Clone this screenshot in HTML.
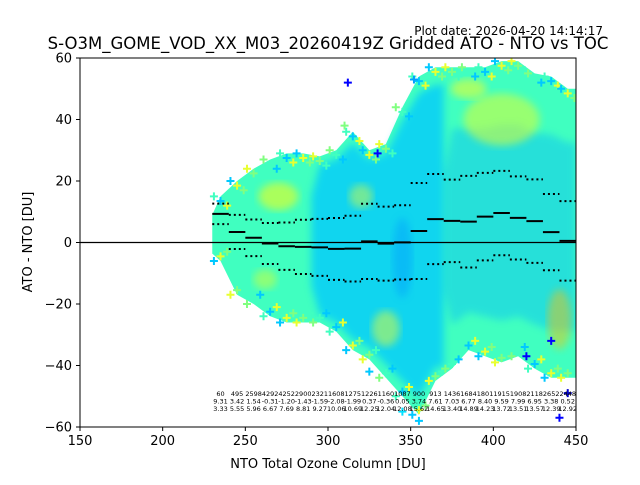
<!DOCTYPE html>
<html><head><meta charset="utf-8"><style>
body{margin:0;background:#fff;font-family:"Liberation Sans","DejaVu Sans",sans-serif}
svg text{font-family:"DejaVu Sans","Liberation Sans",sans-serif}
</style></head><body>
<svg id="chart" width="640" height="480" viewBox="0 0 640 480" xmlns="http://www.w3.org/2000/svg">
<rect width="640" height="480" fill="#fff"/>
<text x="603" y="35" font-size="12" text-anchor="end">Plot date: 2026-04-20 14:14:17</text>
<text x="328" y="49" font-size="16.5" text-anchor="middle">S-O3M_GOME_VOD_XX_M03_20260419Z Gridded ATO - NTO vs TOC</text>
<defs><clipPath id="pc"><rect x="80" y="58" width="496" height="369"/></clipPath>
<filter id="blur"><feGaussianBlur stdDeviation="4"/></filter></defs>
<g id="cloud" clip-path="url(#pc)"></g>
<g id="overlay" clip-path="url(#pc)"></g>
<g id="stats"></g>
<rect x="80" y="58" width="496" height="369" fill="none" stroke="#000" stroke-width="1"/>
<g id="axes"></g>
<text x="328" y="468" font-size="13" text-anchor="middle">NTO Total Ozone Column [DU]</text>
<text transform="translate(32,242) rotate(-90)" font-size="13" text-anchor="middle">ATO - NTO [DU]</text>
</svg>
<script>
const binCenters=[235,245,255,265,275,285,295,305,315,325,335,345,355,365,375,385,395,405,415,425,435,445];
const counts=[60,495,2598,4292,4252,2900,2321,1608,1275,1226,1160,1087,900,913,1436,1684,1801,1915,1908,2118,2652,2448];
const means=[9.31,3.42,1.54,-0.31,-1.20,-1.43,-1.59,-2.08,-1.99,0.37,-0.36,0.05,3.74,7.61,7.03,6.77,8.40,9.59,7.99,6.95,3.38,0.52];
const stds=[3.33,5.55,5.96,6.67,7.69,8.81,9.27,10.06,10.69,12.25,12.04,12.08,15.62,14.65,13.40,14.89,14.23,13.72,13.51,13.57,12.39,12.92];
const envTop=[15,20,24,27,29,29,28,30,36,30,32,44,54,57,57,57,57,59,59,55,54,50];
const envBot=[-6,-17,-20,-24,-26,-26,-26,-29,-35,-38,-44,-50,-56,-45,-41,-35,-37,-39,-37,-41,-44,-44];
const xTicks=[150,200,250,300,350,400,450];
const yTicks=[60,40,20,0,-20,-40,-60];
const outX=[312,330,352,440,355,445,435,420,325,345,310];
const outY=[52,29,53,-57,-58,-49,-32,-37,-42,-55,38];
const outC=['#0000ff','#0000ff','#00a0ff','#0000ff','#00c8ff','#0000cc','#0000ff','#0000ff','#00c8ff','#00e0ff','#80ff80'];

const X=v=>80+(v-150)*496/300;
const Y=v=>242.5-v*369/120;
const NS='http://www.w3.org/2000/svg';
function mk(tag,attrs,parent){const e=document.createElementNS(NS,tag);for(const k in attrs)e.setAttribute(k,attrs[k]);parent.appendChild(e);return e;}
const cloud=document.getElementById('cloud'),ov=document.getElementById('overlay'),stats=document.getElementById('stats'),axes=document.getElementById('axes');

function envPoly(lo,hi,sc){
  const idx=binCenters.map((c,i)=>i).filter(i=>binCenters[i]>=lo&&binCenters[i]<=hi);
  let p=[];
  p.push(X(binCenters[idx[0]]-5)+','+Y(envTop[idx[0]]*sc*0.6));
  idx.forEach(i=>p.push(X(binCenters[i])+','+Y(envTop[i]*sc)));
  p.push(X(binCenters[idx[idx.length-1]]+5)+','+Y(envTop[idx[idx.length-1]]*sc));
  p.push(X(binCenters[idx[idx.length-1]]+5)+','+Y(envBot[idx[idx.length-1]]*sc));
  idx.slice().reverse().forEach(i=>p.push(X(binCenters[i])+','+Y(envBot[i]*sc)));
  p.push(X(binCenters[idx[0]]-5)+','+Y(envBot[idx[0]]*sc*0.6));
  return p.join(' ');
}
const base=mk('polygon',{points:envPoly(230,450,1),fill:'#40ffc0'},cloud);


const colorZones=[[295,365,0.9,'#00c8ff',0.75],[375,450,0.65,'#00b4ff',0.4]];
colorZones.forEach(z=>{
  const e=mk('polygon',{points:envPoly(z[0],z[1],z[2]),fill:z[3],opacity:z[4],filter:'url(#blur)'},cloud);
  
  
});
const blobs=[[270,15,20,14,'#d8ff30',0.7],[262,-12,12,10,'#d8ff30',0.5],[405,40,38,26,'#e0ff30',0.55],[385,50,18,10,'#e8ff30',0.6],[440,-25,12,30,'#ffc000',0.45],[335,-28,14,18,'#e8ff30',0.5],[320,15,12,12,'#e8ff30',0.45],[345,-5,10,40,'#0096ff',0.4]];
blobs.forEach(b=>{
  const e=mk('ellipse',{cx:X(b[0]),cy:Y(b[1]),rx:b[2],ry:b[3],fill:b[4],opacity:b[5],filter:'url(#blur)'},cloud);
  
  
});
const edgeCols=['#40ffc0','#00c8ff','#e8ff30','#80ff80'];
binCenters.forEach((c,i)=>{
  [[envTop[i],1],[envBot[i],-1]].forEach(([v,s],k)=>{
    for(let j=0;j<3;j++){
      const x=X(c-4+j*4),y=Y(v-s*j*1.5);
      const pl=mk('path',{d:`M${x-4},${y}h8M${x},${y-4}v8`,stroke:edgeCols[(i+j+k)%4],'stroke-width':2},cloud);
      
      
    }
  });
});
outX.forEach((v,i)=>{
  const x=X(v),y=Y(outY[i]);
  const pl=mk('path',{d:`M${x-4},${y}h8M${x},${y-4}v8`,stroke:outC[i],'stroke-width':2},cloud);
  
  
});
const z=mk('line',{x1:80,x2:576,y1:Y(0),y2:Y(0),stroke:'#000','stroke-width':1.2},ov);


binCenters.forEach((c,i)=>{
  const m=mk('line',{x1:X(c-5),x2:X(c+5),y1:Y(means[i]),y2:Y(means[i]),stroke:'#000','stroke-width':2},ov);
  
  
  [1,-1].forEach(s=>{
    const d=mk('line',{x1:X(c-5),x2:X(c+5),y1:Y(means[i]+s*stds[i]),y2:Y(means[i]+s*stds[i]),stroke:'#000','stroke-width':2,'stroke-dasharray':'2,3'},ov);
    
    
  });
  const rows=[counts[i],means[i].toFixed(2),stds[i].toFixed(2)];
  rows.forEach((r,k)=>{
    const t=mk('text',{x:X(c),y:396+k*7.5,'font-size':6.5,'text-anchor':'middle'},stats);
    t.textContent=r;
    
    
  });
});
xTicks.forEach(v=>{
  mk('line',{x1:X(v),x2:X(v),y1:427,y2:431,stroke:'#000'},axes);
  const t=mk('text',{x:X(v),y:445,'font-size':13,'text-anchor':'middle'},axes);
  t.textContent=v;
  
  
});
yTicks.forEach(v=>{
  mk('line',{x1:76,x2:80,y1:Y(v),y2:Y(v),stroke:'#000'},axes);
  const t=mk('text',{x:72,y:Y(v)+4.5,'font-size':13,'text-anchor':'end'},axes);
  t.textContent=v===0?'0':(v<0?'\u2212'+(-v):v);
  
  
});
</script>
</body></html>
